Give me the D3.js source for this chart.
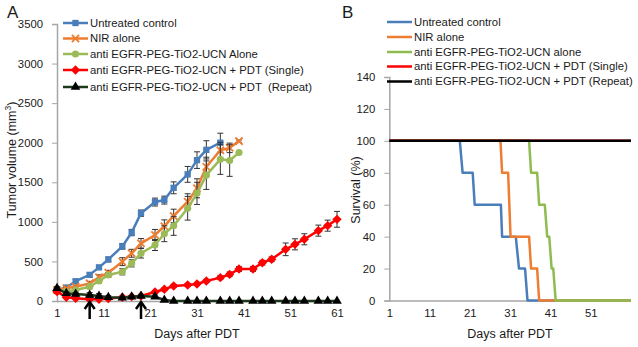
<!DOCTYPE html>
<html><head><meta charset="utf-8">
<script src="https://cdn.jsdelivr.net/npm/d3@7"></script>
<style>
html,body{margin:0;padding:0;background:#fff;}
svg{display:block;font-family:"Liberation Sans",Arial,sans-serif;}
text{white-space:pre;}
</style></head>
<body>
<svg id="chart" width="638" height="347"></svg>
<script>
// ---------- Panel A data ----------
const daysA = [1,3,5,8,10,12,15,17,19,22,24,26,29,31,33,36,38,40,43,45,47,50,52,54,57,59,61];
const untreatedVol = [140,170,250,330,425,525,690,865,1110,1250,1275,1430,1600,1780,1910,2000];
const untreatedErr = [15,15,20,25,25,30,35,40,40,50,50,75,100,105,115,120];
const nirVol = [140,160,181,223,300,358,497,603,729,834,945,1075,1255,1424,1697,1905,1935,2020];
const nirErr = [10,15,20,25,30,30,50,50,60,70,80,85,100,120,120,100,60,15];
const nanoVol = [150,120,139,181,253,328,370,476,603,708,850,950,1172,1360,1590,1790,1775,1875];
const nanoErr = [10,15,15,20,25,30,40,45,60,70,100,120,150,140,180,190,200,0];
const pdtSingleVol = [118,47,34,21,22,30,47,55,63,114,148,190,202,215,253,295,337,404,404,484,527,653,716,780,889,952,1032];
const pdtSingleErr = [20,15,10,10,10,10,10,10,15,15,15,20,20,20,20,25,30,30,30,30,30,80,70,70,70,70,100];
const pdtRepeatVol = [160,97,88,76,63,47,42,54,63,55,13,0,0,0,0,0,0,0,0,0,0,0,0,0,0,0,0];
const pdtRepeatErr = [20,20,20,30,30,20,15,15,20,20,10,0,0,0,0,0,0,0,0,0,0,0,0,0,0,0,0];
const arrowDays = [8, 19];
const yTicksA = [0,500,1000,1500,2000,2500,3000,3500];
const xTicks = [1,11,21,31,41,51,61];
const xTicksB = [1,11,21,31,41,51];
const yTicksB = [0,20,40,60,80,100,120,140];

const legendA = ["Untreated control","NIR alone","anti EGFR-PEG-TiO2-UCN Alone","anti EGFR-PEG-TiO2-UCN + PDT (Single)","anti EGFR-PEG-TiO2-UCN + PDT  (Repeat)"];
const legendB = ["Untreated control","NIR alone","anti EGFR-PEG-TiO2-UCN alone","anti EGFR-PEG-TiO2-UCN + PDT (Single)","anti EGFR-PEG-TiO2-UCN + PDT (Repeat)"];

// ---------- Panel B data ----------
const untreatedSurvX = [1,18.5,19.2,21.7,22.2,28.7,29.0,32.4,33.2,34.7,35.3,61];
const untreatedSurvY = [100,100,80,80,60,60,40,40,20,20,0,0];
const nirSurvX = [1,28.6,29.0,30.5,31.1,35.7,36.2,37.7,38.2,61];
const nirSurvY = [100,100,80,80,40,40,20,20,0,0];
const nanoSurvX = [1,35.7,36.2,37.7,38.2,39.6,40.2,40.7,41.3,41.7,42.3,61];
const nanoSurvY = [100,100,80,80,60,60,40,40,20,20,0,0];
const singleSurvX = [1,61];
const singleSurvY = [100,100];
const repeatSurvX = [1,61];
const repeatSurvY = [100,100];

const colorsA = ["#4a7ebb","#ed7d31","#9bbb59","#ff0000","#1b3a1b"];
const markerFillA = ["#4a7ebb","#ed7d31","#9bbb59","#ff0000","#000000"];
const colorsB = ["#4a7ebb","#ed7d31","#8fbc4f","#ff0000","#000000"];

const svg = d3.select("#chart");
const FS = 11.3;
const axisColor = "#a6a6a6";
const textColor = "#1a1a1a";

// ---------- Panel A ----------
const xA = d3.scaleLinear().domain([1,61]).range([57,337]);
const yA = d3.scaleLinear().domain([0,3500]).range([301,24]);

const gA = svg.append("g");
const yAxA = gA.append("g").attr("transform","translate(57,0)")
  .call(d3.axisLeft(yA).tickValues(yTicksA).tickSize(5).tickPadding(9).tickFormat(d3.format("d")));
const xAxA = gA.append("g").attr("transform","translate(0,301)")
  .call(d3.axisBottom(xA).tickValues(xTicks).tickSize(0).tickPadding(8).tickFormat(d3.format("d")));
[yAxA,xAxA].forEach(ax=>{
  ax.select(".domain").attr("stroke",axisColor).attr("stroke-width",1.5);
  ax.selectAll(".tick line").attr("stroke",axisColor);
  ax.selectAll("text").attr("font-size",FS).attr("fill",textColor).attr("font-family","Liberation Sans, Arial, sans-serif");
});
xAxA.select(".domain").attr("d","M57,0.5H340");

const diamondSym = d3.symbolDiamond2 || d3.symbolDiamond;
function marker(i){
  if(i===0) return d3.symbol(d3.symbolSquare, 40)();
  if(i===1) return d3.symbol(d3.symbolTimes||d3.symbolX||d3.symbolCross, 36)();
  if(i===2) return d3.symbol(d3.symbolCircle, 40)();
  if(i===3) return d3.symbol(diamondSym, 56)();
  return d3.symbol(d3.symbolTriangle, 40)();
}

const seriesA = [
  [untreatedVol, untreatedErr],
  [nirVol, nirErr],
  [nanoVol, nanoErr],
  [pdtSingleVol, pdtSingleErr],
  [pdtRepeatVol, pdtRepeatErr]
];
const lineA = d3.line().x(d=>xA(d.x)).y(d=>yA(d.y));

seriesA.forEach(([vals,errs],i)=>{
  const pts = vals.map((v,k)=>({x:daysA[k], y:v, e:errs[k]}));
  const g = gA.append("g");
  const eb = g.append("g").attr("stroke","#333").attr("stroke-width",1);
  pts.filter(p=>p.e>0).forEach(p=>{
    const X = xA(p.x), y1=yA(p.y+p.e), y2=yA(Math.max(0,p.y-p.e));
    eb.append("line").attr("x1",X).attr("x2",X).attr("y1",y1).attr("y2",y2);
    eb.append("line").attr("x1",X-3).attr("x2",X+3).attr("y1",y1).attr("y2",y1);
    eb.append("line").attr("x1",X-3).attr("x2",X+3).attr("y1",y2).attr("y2",y2);
  });
  g.append("path").attr("d",lineA(pts)).attr("fill","none")
   .attr("stroke",colorsA[i]).attr("stroke-width",2.5).attr("stroke-linejoin","round");
  g.selectAll(".m").data(pts).enter().append("path")
   .attr("transform",p=>`translate(${xA(p.x)},${yA(p.y)})`)
   .attr("d",marker(i))
   .attr("fill",markerFillA[i])
   .attr("stroke", i===1 ? colorsA[i] : "none")
   .attr("stroke-width", i===1 ? 1.8 : 0);
});

arrowDays.forEach(d=>{
  const X = xA(d);
  gA.append("line").attr("x1",X).attr("x2",X).attr("y1",302.5).attr("y2",319)
    .attr("stroke","#000").attr("stroke-width",2.5);
  gA.append("path").attr("d",`M${X-5},${309}L${X},${302}L${X+5},${309}`)
    .attr("fill","none").attr("stroke","#000").attr("stroke-width",2.5);
});

legendA.forEach((t,i)=>{
  const y = [23,38.5,54,70,87][i];
  gA.append("line").attr("x1",63).attr("x2",88).attr("y1",y).attr("y2",y)
    .attr("stroke",colorsA[i]).attr("stroke-width",2.5);
  gA.append("path").attr("transform",`translate(75.5,${y})`).attr("d",marker(i))
    .attr("fill",markerFillA[i]).attr("stroke", i===1?colorsA[i]:"none").attr("stroke-width", i===1?1.8:0);
  gA.append("text").attr("x",90).attr("y",y).attr("dy","0.35em")
    .attr("font-size",FS).attr("fill",textColor).text(t);
});

gA.append("text").attr("x",7).attr("y",18).attr("font-size",17).attr("fill",textColor).text("A");
gA.append("text").attr("x",197).attr("y",338).attr("text-anchor","middle")
  .attr("font-size",12.5).attr("fill",textColor).text("Days after PDT");
const yt = gA.append("text").attr("transform","translate(16,160) rotate(-90)")
  .attr("text-anchor","middle").attr("font-size",12.5).attr("fill",textColor);
yt.append("tspan").text("Tumor volume (mm");
yt.append("tspan").attr("font-size",8.5).attr("dy",-5).text("3");
yt.append("tspan").attr("dy",5).text(")");

// ---------- Panel B ----------
const xB = d3.scaleLinear().domain([1,61]).range([389.3,631]);
const yB = d3.scaleLinear().domain([0,140]).range([300.5,77]);
const gB = svg.append("g");
const yAxB = gB.append("g").attr("transform","translate(389.3,0)")
  .call(d3.axisLeft(yB).tickValues(yTicksB).tickSize(5).tickPadding(9).tickFormat(d3.format("d")));
const xAxB = gB.append("g").attr("transform","translate(0,300.5)")
  .call(d3.axisBottom(xB).tickValues(xTicksB).tickSize(0).tickPadding(8).tickFormat(d3.format("d")));
[yAxB,xAxB].forEach(ax=>{
  ax.select(".domain").attr("stroke",axisColor).attr("stroke-width",1.5);
  ax.selectAll(".tick line").attr("stroke",axisColor);
  ax.selectAll("text").attr("font-size",FS).attr("fill",textColor).attr("font-family","Liberation Sans, Arial, sans-serif");
});
xAxB.select(".domain").attr("d","M389.3,0.5H631");

const survSeries = [
  [untreatedSurvX, untreatedSurvY],
  [nirSurvX, nirSurvY],
  [nanoSurvX, nanoSurvY],
  [singleSurvX, singleSurvY],
  [repeatSurvX, repeatSurvY]
];
const lineB = d3.line().x(d=>xB(d[0])).y(d=>yB(d[1]));
survSeries.forEach(([xs,ys],i)=>{
  gB.append("path").attr("d",lineB(xs.map((x,k)=>[x,ys[k]])))
    .attr("fill","none").attr("stroke",colorsB[i]).attr("stroke-width",2.5)
    .attr("stroke-linejoin","round");
});

legendB.forEach((t,i)=>{
  const y = [22,37,52,66.5,81.5][i];
  gB.append("line").attr("x1",387).attr("x2",412).attr("y1",y).attr("y2",y)
    .attr("stroke",colorsB[i]).attr("stroke-width",2.5);
  gB.append("text").attr("x",414).attr("y",y).attr("dy","0.35em")
    .attr("font-size",FS).attr("fill",textColor).text(t);
});

gB.append("text").attr("x",342).attr("y",18).attr("font-size",17).attr("fill",textColor).text("B");
gB.append("text").attr("x",510).attr("y",338).attr("text-anchor","middle")
  .attr("font-size",12.5).attr("fill",textColor).text("Days after PDT");
gB.append("text").attr("transform","translate(360,190) rotate(-90)")
  .attr("text-anchor","middle").attr("font-size",12.5).attr("fill",textColor).text("Survival (%)");
</script>
</body></html>
